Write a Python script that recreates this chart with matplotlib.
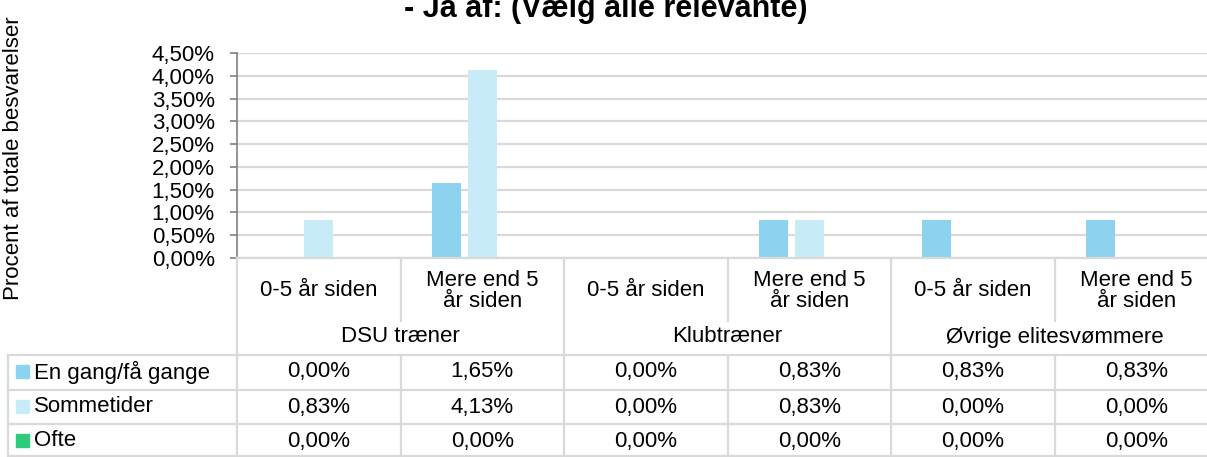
import numpy as np
import matplotlib
matplotlib.use("Agg")
from matplotlib import pyplot as plt
from matplotlib.patches import Rectangle
import matplotlib.transforms as mtransforms

plt.rcParams['font.family'] = ['Liberation Sans', 'DejaVu Sans']

# data
groups = ["DSU træner", "Klubtræner", "Øvrige elitesvømmere"]
periods = ["0-5 år siden", "Mere end 5\når siden"]
series = ["En gang/få gange", "Sommetider", "Ofte"]
en_gang = [0.00, 1.65, 0.00, 0.83, 0.83, 0.83]
sommetider = [0.83, 4.13, 0.00, 0.83, 0.00, 0.00]
ofte = [0.00, 0.00, 0.00, 0.00, 0.00, 0.00]
colors = ["#8DD3F0", "#C8ECF7", "#2ECC7A"]
yticks = np.arange(0, 4.51, 0.5)

W, H = 1207, 457
fs = 16
fig = plt.figure(figsize=(W / 100, H / 100), dpi=100)

def fy(py):
    return 1 - py / H

def fx(px):
    return px / W

grid_c = "#D9D9D9"
ax = fig.add_axes([fx(237), fy(258), fx(1218) - fx(237), fy(53) - fy(258)])
ax.set_xlim(0, 6)
ax.set_ylim(0, 4.5)

x = np.arange(6) + 0.5
bw = 29 / 163.5
step = 36 / 163.5
values = [en_gang, sommetider, ofte]
for i, vals in enumerate(values):
    ax.bar(x + (i - 1) * step, vals, width=bw, color=colors[i], zorder=3)

ax.set_yticks(yticks)
ax.set_yticklabels([f"{v:.2f}%".replace(".", ",") for v in yticks], fontsize=fs)
ax.yaxis.grid(True, color=grid_c, lw=1.6, zorder=0)
ax.set_xticks([])
for s in ["top", "right", "bottom"]:
    ax.spines[s].set_visible(False)
ax.spines["left"].set_color("#808080")
ax.spines["left"].set_linewidth(1.2)
ax.tick_params(axis="y", length=5, width=1.2, color="#808080", pad=11)

# table below the plot
tb = mtransforms.blended_transform_factory(ax.transData, fig.transFigure)
lw = 1.6

def hline(py, x0, x1=6.2):
    fig.add_artist(plt.Line2D([x0, x1], [fy(py), fy(py)], transform=tb,
                              color=grid_c, lw=lw, clip_on=False))

def vline(xd, y0, y1):
    fig.add_artist(plt.Line2D([xd, xd], [fy(y0), fy(y1)], transform=tb,
                              color=grid_c, lw=lw, clip_on=False))

x_left = -229 / 163.5
hline(258, 0)
for py in [355, 390, 424, 456]:
    hline(py, x_left)
vline(x_left, 355, 457)
for k in range(7):
    if k % 2 == 0:
        vline(k, 258, 457)
    else:
        vline(k, 258, 321)
        vline(k, 355, 457)

for k in range(6):
    fig.text(k + 0.5, fy(291), periods[k % 2], transform=tb, ha="center",
             va="center", fontsize=fs, linespacing=1.0)
for g, name in enumerate(groups):
    fig.text(2 * g + 1, fy(337), name, transform=tb, ha="center", va="center",
             fontsize=fs)

row_y = [372, 407, 441]
for i, name in enumerate(series):
    fig.add_artist(Rectangle((fx(16), fy(row_y[i] + 6)), fx(13), 13 / H,
                             transform=fig.transFigure, color=colors[i]))
    fig.text(fx(34), fy(row_y[i]), name, ha="left", va="center", fontsize=fs)
    for k in range(6):
        fig.text(k + 0.5, fy(row_y[i]), f"{values[i][k]:.2f}%".replace(".", ","),
                 transform=tb, ha="center", va="center", fontsize=fs)

fig.text(fx(14), fy(158), "Procent af totale besvarelser", rotation=90,
         ha="center", va="center", fontsize=fs)
fig.text(fx(606), fy(17), "- Ja af: (Vælg alle relevante)", ha="center",
         va="baseline", fontsize=22, fontweight="bold")

fig.savefig("out.png", dpi=100)
